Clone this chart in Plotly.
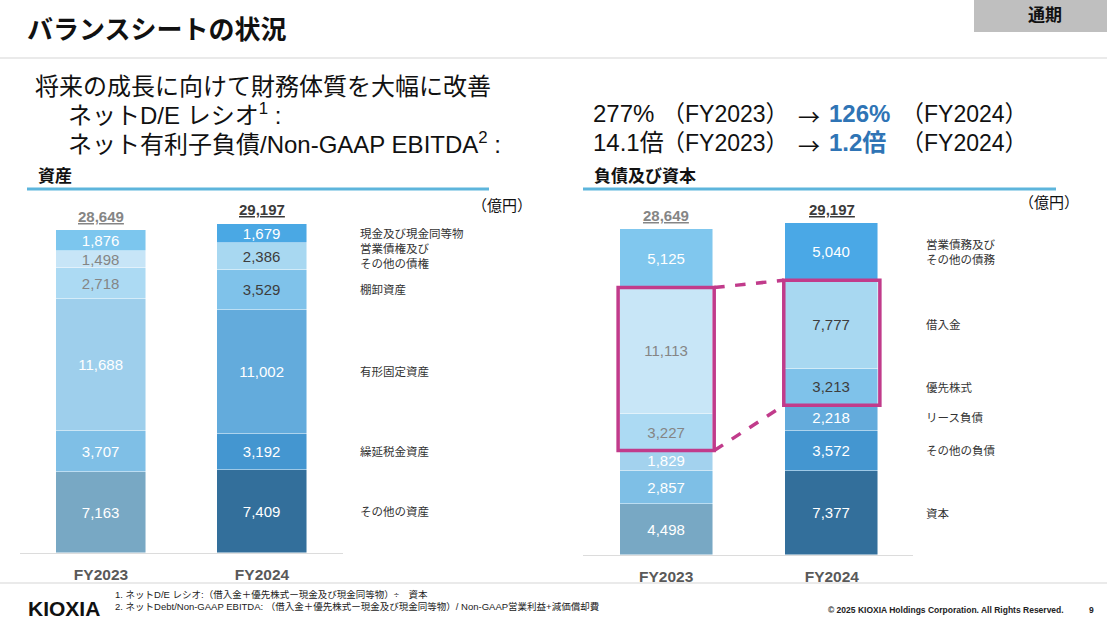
import plotly.graph_objects as go

W, H = 1107, 633

years = ["FY2023", "FY2024"]

asset_categories = ["その他の資産", "繰延税金資産", "有形固定資産", "棚卸資産",
                    "営業債権及び<br>その他の債権", "現金及び現金同等物"]
asset_fy2023 = [7163, 3707, 11688, 2718, 1498, 1876]
asset_fy2024 = [7409, 3192, 11002, 3529, 2386, 1679]
asset_totals = [28649, 29197]

liab_categories = ["資本", "その他の負債", "リース負債", "優先株式", "借入金",
                   "営業債務及び<br>その他の債務"]
liab_fy2023 = [4498, 2857, 1829, 3227, 11113, 5125]
liab_fy2024 = [7377, 3572, 2218, 3213, 7777, 5040]
liab_totals = [28649, 29197]

boxed = ["優先株式", "借入金"]

# styles
asset_colors_23 = ["#78a8c4", "#7fbfe6", "#9ecfec", "#acdaf3", "#c7e5f7", "#7cc6ee"]
asset_colors_24 = ["#336f9b", "#4496d0", "#63abdc", "#7fc2ea", "#a8d8f1", "#4aa8e4"]
asset_text_23 = ["white", "white", "white", "#858585", "#858585", "white"]
asset_text_24 = ["white", "white", "white", "#3d3d3d", "#3d3d3d", "white"]

liab_colors_23 = ["#78a8c4", "#7ebfe6", "#a3d2ee", "#acdaf3", "#c8e6f7", "#80c7ee"]
liab_colors_24 = ["#336f9b", "#4496d0", "#63abdc", "#7fc2ea", "#a8d8f1", "#4aa8e6"]
liab_text_23 = ["white", "white", "white", "#858585", "#858585", "white"]
liab_text_24 = ["white", "white", "white", "#3d3d3d", "#3d3d3d", "white"]

FONT = "Liberation Sans, Arial, Noto Sans CJK JP, sans-serif"
CJK = "Noto Sans CJK JP, sans-serif"
BARW = 0.56
MAG = "#c13b8b"


def px(x):
    return x / W


def py(y):
    return 1 - y / H


fig = go.Figure()


def add_stack(cats, v23, v24, c23, c24, t23, t24, xa, ya):
    for i, cat in enumerate(cats):
        vals = [v23[i], v24[i]]
        fig.add_trace(go.Bar(
            x=years, y=vals, xaxis=xa, yaxis=ya, width=BARW,
            name=cat.replace("<br>", ""),
            marker=dict(color=[c23[i], c24[i]], line=dict(color="rgba(255,255,255,0.6)", width=0.8)),
            text=[f"{v:,}" for v in vals],
            textposition="inside", insidetextanchor="middle", textangle=0,
            constraintext="none",
            textfont=dict(family=FONT, size=15, color=[t23[i], t24[i]]),
            hoverinfo="skip", showlegend=False,
        ))


add_stack(asset_categories, asset_fy2023, asset_fy2024, asset_colors_23, asset_colors_24,
          asset_text_23, asset_text_24, "x", "y")
add_stack(liab_categories, liab_fy2023, liab_fy2024, liab_colors_23, liab_colors_24,
          liab_text_23, liab_text_24, "x2", "y2")

annotations = []
shapes = []

# totals above bars
for k, (tot_list, xr, yr) in enumerate([(asset_totals, "x", "y"), (liab_totals, "x2", "y2")]):
    for j, yr_name in enumerate(years):
        annotations.append(dict(
            x=yr_name, y=tot_list[j], xref=xr, yref=yr, yshift=14, showarrow=False,
            text=f"<b><u>{tot_list[j]:,}</u></b>",
            font=dict(family=FONT, size=15, color="#858585" if j == 0 else "#3a3a3a"),
        ))


# category labels at FY2024 segment centres
def cat_labels(cats, vals, xpix, yr):
    cum = 0
    for cat, v in zip(cats, vals):
        annotations.append(dict(
            x=px(xpix), xref="paper", xanchor="left", y=cum + v / 2, yref=yr,
            text=cat, showarrow=False, align="left",
            font=dict(family=FONT, size=11.5, color="#333333"),
        ))
        cum += v


cat_labels(asset_categories, asset_fy2024, 358, "y")
cat_labels(liab_categories, liab_fy2024, 924, "y2")

# magenta boxes & connectors
idx = [liab_categories.index(c) for c in boxed]
lo = min(idx)
hi = max(idx)
b23_lo = sum(liab_fy2023[:lo]); b23_hi = sum(liab_fy2023[:hi + 1])
b24_lo = sum(liab_fy2024[:lo]); b24_hi = sum(liab_fy2024[:hi + 1])
shapes.append(dict(type="rect", xref="x2", yref="y2", x0=-BARW / 2 - 0.01, x1=BARW / 2 + 0.01,
                   y0=b23_lo, y1=b23_hi, line=dict(color=MAG, width=3.5)))
shapes.append(dict(type="rect", xref="x2", yref="y2", x0=1 - BARW / 2 - 0.01, x1=1 + BARW / 2 + 0.01,
                   y0=b24_lo, y1=b24_hi, line=dict(color=MAG, width=3.5)))
shapes.append(dict(type="line", xref="x2", yref="y2", x0=BARW / 2 + 0.01, x1=1 - BARW / 2 - 0.01,
                   y0=b23_hi, y1=b24_hi, line=dict(color=MAG, width=3.5, dash="dash")))
shapes.append(dict(type="line", xref="x2", yref="y2", x0=BARW / 2 + 0.01, x1=1 - BARW / 2 - 0.01,
                   y0=b23_lo, y1=b24_lo, line=dict(color=MAG, width=3.5, dash="dash")))

# page decorations
shapes.append(dict(type="rect", xref="paper", yref="paper", x0=px(974), x1=1, y0=py(32), y1=1,
                   fillcolor="#bfbfbf", line=dict(width=0), layer="below"))
for yline in (58, 583):
    shapes.append(dict(type="line", xref="paper", yref="paper", x0=0, x1=1, y0=py(yline), y1=py(yline),
                       line=dict(color="#d6d6d6", width=1.2)))
shapes.append(dict(type="line", xref="paper", yref="paper", x0=px(27), x1=px(489), y0=py(189), y1=py(189),
                   line=dict(color="#5db5dc", width=3)))
shapes.append(dict(type="line", xref="paper", yref="paper", x0=px(583), x1=px(1056), y0=py(189), y1=py(189),
                   line=dict(color="#5db5dc", width=3)))


def txt(x, y, s, size, color="#111111", anchor="left", bold=False, family=FONT):
    annotations.append(dict(
        x=px(x), y=py(y), xref="paper", yref="paper", xanchor=anchor, yanchor="middle",
        text=f"<b>{s}</b>" if bold else s, showarrow=False, align="left",
        font=dict(family=family, size=size, color=color),
    ))


txt(25, 30, "バランスシートの状況", 26, bold=True)
txt(1045, 16, "通期", 17, anchor="center", bold=True)
txt(33, 86, "将来の成長に向けて財務体質を大幅に改善", 24)
txt(66, 114, "ネットD/E レシオ<sup>1</sup> :", 24)
txt(66, 143, "ネット有利子負債/Non-GAAP EBITDA<sup>2</sup> :", 24)
txt(591, 114, "277%", 24)
txt(591, 143, "14.1倍", 24)
txt(660, 114, "（FY2023）", 23)
txt(660, 143, "（FY2023）", 23)
txt(796, 115, "→", 22, family=CJK)
txt(796, 144, "→", 22, family=CJK)
txt(827, 114, "126%", 24, color="#2f74b5", bold=True)
txt(827, 143, "1.2倍", 24, color="#2f74b5", bold=True)
txt(899, 114, "（FY2024）", 23)
txt(899, 143, "（FY2024）", 23)
txt(36, 176, "資産", 17, bold=True)
txt(592, 176, "負債及び資本", 17, bold=True)
txt(470, 205, "（億円）", 15)
txt(1017, 203, "（億円）", 15)
txt(26, 608, "KIOXIA", 21, color="#111111", bold=True)
txt(113, 594, "1. ネットD/E レシオ:（借入金＋優先株式ー現金及び現金同等物）÷　資本", 9.5, color="#222222")
txt(113, 606, "2. ネットDebt/Non-GAAP EBITDA: （借入金＋優先株式ー現金及び現金同等物）/ Non-GAAP営業利益+減価償却費",
    9.5, color="#222222")
txt(1066, 610, "© 2025 KIOXIA Holdings Corporation. All Rights Reserved.", 8.5, color="#222222",
    anchor="right", bold=True)
txt(1096, 610, "9", 8.5, color="#222222", anchor="right", bold=True)

axis_common = dict(showgrid=False, zeroline=False, fixedrange=True)
xcommon = dict(axis_common, type="category", range=[-0.503, 1.503], showline=True, linecolor="#dcdcdc",
               linewidth=1, ticks="", ticklabelstandoff=7,
               tickfont=dict(family=FONT, size=15.5, color="#595959"),
               ticktext=[f"<b>{y}</b>" for y in years], tickvals=years)

fig.update_layout(
    width=W, height=H,
    margin=dict(l=0, r=0, t=0, b=0),
    paper_bgcolor="white", plot_bgcolor="rgba(0,0,0,0)",
    barmode="stack", bargap=0,
    showlegend=False,
    xaxis=dict(xcommon, domain=[px(20), px(343)], anchor="y"),
    yaxis=dict(axis_common, domain=[py(553), py(200)], range=[0, 353 / 0.01127], visible=False, anchor="x"),
    xaxis2=dict(xcommon, domain=[px(583), px(913)], range=[-0.502, 1.49], anchor="y2"),
    yaxis2=dict(axis_common, domain=[py(555), py(200)], range=[0, 355 / 0.01137], visible=False, anchor="x2"),
    annotations=annotations,
    shapes=shapes,
    font=dict(family=FONT),
)

fig.write_html("out.html")
